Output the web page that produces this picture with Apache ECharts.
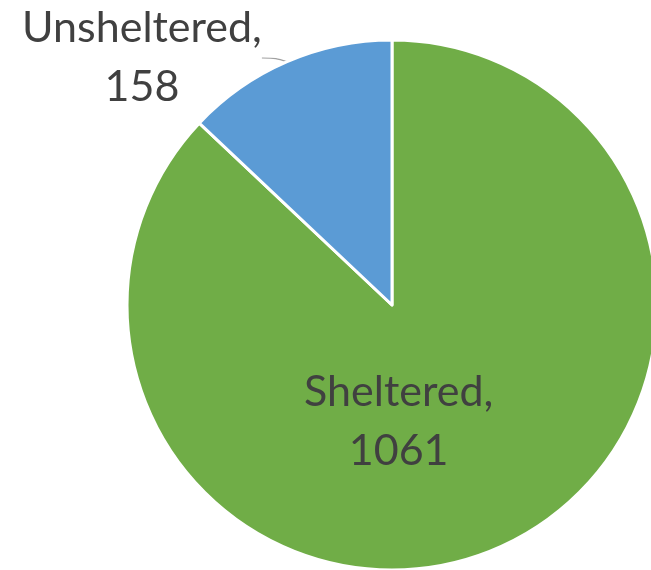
<!DOCTYPE html>
<html>
<head>
<meta charset="utf-8">
<script src="https://cdn.jsdelivr.net/npm/echarts@6/dist/echarts.min.js"></script>
<style>
  html, body { margin: 0; padding: 0; background: #fff; }
  #main { width: 651px; height: 570px; }
</style>
</head>
<body>
<div id="main"></div>
<script>
var categories = ['Sheltered', 'Unsheltered'];
var values = [1061, 158];
var colors = ['#70AD47', '#5B9BD5'];

var myChart = echarts.init(document.getElementById('main'));

var pieData = categories.map(function (name, i) {
    var item = { name: name, value: values[i], itemStyle: { color: colors[i] } };
    if (i === 0) {
        item.label = { position: 'inside', offset: [-47, -8] };
        item.labelLine = { show: false };
    }
    return item;
});

myChart.setOption({
    animation: false,
    series: [{
        type: 'pie',
        center: [392, 305],
        radius: 265,
        startAngle: 90,
        clockwise: true,
        itemStyle: { borderColor: '#fff', borderWidth: 3 },
        label: {
            show: true,
            position: 'outside',
            formatter: '{b},\n{c}',
            fontFamily: 'Lato',
            fontSize: 43,
            lineHeight: 59,
            color: '#404040'
        },
        labelLine: {
            show: true,
            length: 6,
            length2: 14,
            smooth: true,
            lineStyle: { color: '#A0A0A0', width: 1.2 }
        },
        labelLayout: function (params) {
            if (params.dataIndex === 1) {
                return { x: 142, y: 58, align: 'center', verticalAlign: 'middle' };
            }
        },
        data: pieData
    }]
});
</script>
</body>
</html>
